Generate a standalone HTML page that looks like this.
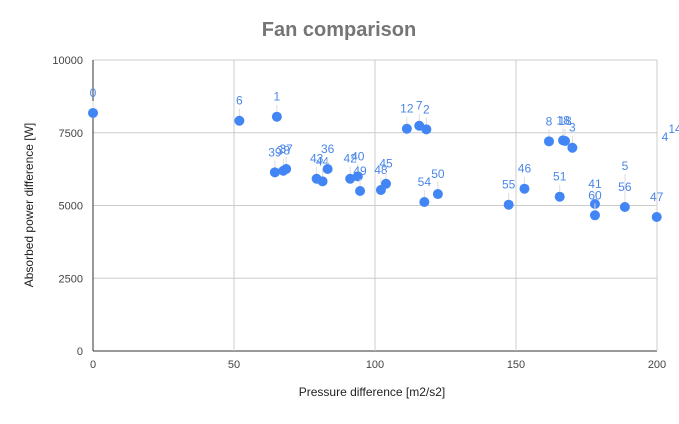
<!DOCTYPE html>
<html><head><meta charset="utf-8"><style>
body{margin:0;background:#fff;width:679px;height:419px;overflow:hidden}
text{font-family:"Liberation Sans",Arial,sans-serif}
</style></head><body>
<svg id="chart" width="679" height="419" xmlns="http://www.w3.org/2000/svg">
<text x="339" y="36" text-anchor="middle" font-size="20" font-weight="bold" fill="#757575">Fan comparison</text>
<g id="grid"></g>
<g id="axes"></g>
<g id="marks"></g>
<text x="372" y="396" text-anchor="middle" font-size="12" fill="#222">Pressure difference [m2/s2]</text>
<text transform="translate(33,205) rotate(-90)" text-anchor="middle" font-size="12" fill="#222">Absorbed power difference [W]</text>
<g font-size="12" fill="#4a86e8">
<text x="625" y="170" text-anchor="middle">5</text>
<line x1="625" y1="174" x2="625" y2="198" stroke="#ddd"/>
<text x="665" y="141" text-anchor="middle">4</text>
<text x="675" y="133" text-anchor="middle">14</text>
</g>
</svg>
<script>
const xTicks=[0,50,100,150,200];
const yTicks=[0,2500,5000,7500,10000];
const yTickLabels=["0","2500","5000","7500","10000"];
const labels=["0","6","1","39","38","37","43","44","36","42","40","49","48","45","12","7","2","54","50","55","46","8","18","18","3","51","41","60","56","47"];
const xVals=[0,51.9,65.2,64.5,67.5,68.5,79.3,81.4,83.2,91.2,93.9,94.7,102.1,103.9,111.3,115.7,118.2,117.5,122.3,147.4,153,161.7,166.7,167.4,170,165.5,178,178,188.6,199.9];
const yVals=[8180,7913,8051,6140,6195,6254,5920,5831,6254,5920,6003,5498,5532,5748,7638,7741,7618,5120,5394,5027,5577,7205,7240,7216,6985,5302,5051,4663,4948,4604];
const X0=93,X1=657,Y0=351,Y1=60;
const sx=v=>X0+(v-0)/200*(X1-X0);
const sy=v=>Y0-(v/10000)*(Y0-Y1);
const NS="http://www.w3.org/2000/svg";
const grid=document.getElementById('grid'),axes=document.getElementById('axes'),marks=document.getElementById('marks');
function mk(tag,attrs,parent){const e=document.createElementNS(NS,tag);for(const k in attrs)e.setAttribute(k,attrs[k]);parent.appendChild(e);return e;}
yTicks.forEach((t,i)=>{
 const l=mk('line',{x1:X0,x2:X1,y1:sy(t),y2:sy(t),stroke:t===0?'#333':'#ccc','stroke-width':1},grid);
 
 
 const tx=mk('text',{x:X0-10,y:sy(t)+4,'text-anchor':'end','font-size':11,fill:'#444'},axes);
 tx.textContent=yTickLabels[i];
 
 
});
xTicks.forEach(t=>{
 const l=mk('line',{x1:sx(t),x2:sx(t),y1:Y1,y2:Y0,stroke:t===0?'#333':'#ccc','stroke-width':1},grid);
 
 
 const tx=mk('text',{x:sx(t),y:Y0+17,'text-anchor':'middle','font-size':11,fill:'#444'},axes);
 tx.textContent=String(t);
 
 
});
xVals.forEach((xv,i)=>{
 const px=sx(xv),py=sy(yVals[i]);
 const ln=mk('line',{x1:px,x2:px,y1:py-12,y2:py-4,stroke:'#ddd','stroke-width':1},marks);
 
 
 const c=mk('circle',{cx:px,cy:py,r:5,fill:'#4285f4'},marks);
 
 
 const t=mk('text',{x:px,y:py-16,'text-anchor':'middle','font-size':12,fill:'#4a86e8'},marks);
 t.textContent=labels[i];
 
 
});
</script>
</body></html>
